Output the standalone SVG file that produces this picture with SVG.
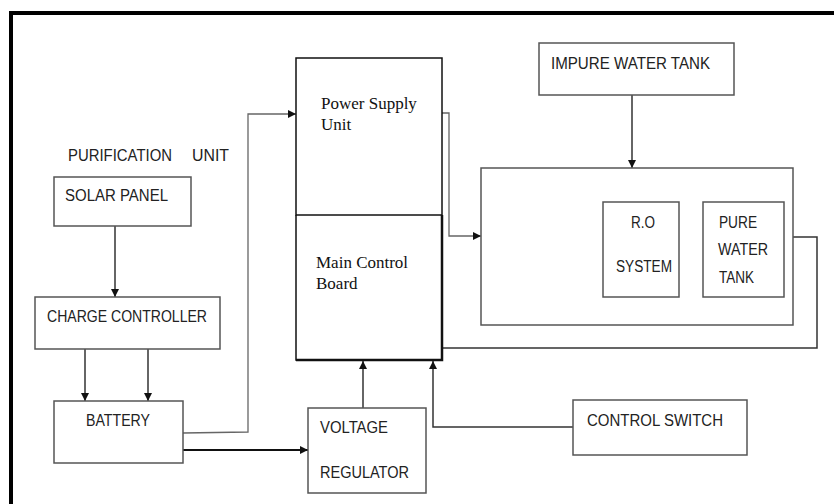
<svg xmlns="http://www.w3.org/2000/svg" width="834" height="504" viewBox="0 0 834 504">
<style>
.box{fill:#fff;stroke:#555;stroke-width:1.5}
.main{fill:none;stroke:#111;stroke-width:1.5}
.t{font-family:"Liberation Sans",Arial,sans-serif;font-size:16px;fill:#222}
.s{font-family:"Liberation Serif","Times New Roman",serif;font-size:17px;fill:#111}
.c{fill:none;stroke:#333;stroke-width:1.5}
.cg{fill:none;stroke:#666;stroke-width:1.3}
.ck{fill:none;stroke:#111;stroke-width:2.2}
</style>
<defs>
<marker id="ah" viewBox="0 0 10 10" refX="10" refY="5" markerWidth="8" markerHeight="8" markerUnits="userSpaceOnUse" orient="auto">
<path d="M0,0 L10,5 L0,10 z" fill="#111"/>
</marker>
</defs>
<rect width="834" height="504" fill="#fff"/>
<g id="frame">
<line x1="9" y1="13" x2="834" y2="13" stroke="#000" stroke-width="4"/>
<line x1="11" y1="11" x2="11" y2="504" stroke="#000" stroke-width="4"/>
</g>
<g id="connectors">
<line class="c" x1="115" y1="226" x2="115" y2="297" marker-end="url(#ah)"/>
<line class="c" x1="85" y1="349" x2="85" y2="401" marker-end="url(#ah)"/>
<line class="c" x1="148" y1="349" x2="148" y2="401" marker-end="url(#ah)"/>
<polyline class="cg" points="183,433 248,432 248,114 296,114" marker-end="url(#ah)"/>
<line class="ck" x1="183" y1="450" x2="308" y2="450" marker-end="url(#ah)"/>
<line class="c" x1="363" y1="408" x2="363" y2="361" marker-end="url(#ah)"/>
<polyline class="c" points="573,427 433,427 433,361" marker-end="url(#ah)"/>
<polyline class="cg" points="442,113 449,113 449,236 481,236" marker-end="url(#ah)"/>
<line class="c" x1="632" y1="95" x2="632" y2="168" marker-end="url(#ah)"/>
<polyline class="c" points="784,237 817,237 817,348 442,348"/>
</g>
<g id="label-purification">
<text class="t" x="68" y="161" textLength="104" lengthAdjust="spacingAndGlyphs">PURIFICATION</text>
<text class="t" x="192" y="161" textLength="37" lengthAdjust="spacingAndGlyphs">UNIT</text>
</g>
<g id="solar-panel">
<rect class="box" x="54" y="177" width="137" height="49"/>
<text class="t" x="65" y="201" textLength="103" lengthAdjust="spacingAndGlyphs">SOLAR  PANEL</text>
</g>
<g id="charge-controller">
<rect class="box" x="35" y="297" width="185" height="52"/>
<text class="t" x="47" y="322" textLength="160" lengthAdjust="spacingAndGlyphs">CHARGE CONTROLLER</text>
</g>
<g id="battery">
<rect class="box" x="54" y="401" width="129" height="62"/>
<text class="t" x="86" y="426" textLength="64" lengthAdjust="spacingAndGlyphs">BATTERY</text>
</g>
<g id="voltage-regulator">
<rect class="box" x="308" y="408" width="118" height="85"/>
<text class="t" x="320" y="433" textLength="68" lengthAdjust="spacingAndGlyphs">VOLTAGE</text>
<text class="t" x="320" y="478" textLength="89" lengthAdjust="spacingAndGlyphs">REGULATOR</text>
</g>
<g id="power-supply-unit">
<rect class="main" x="296" y="58" width="146" height="157"/>
<text class="s" x="321" y="109">Power Supply</text>
<text class="s" x="321" y="130">Unit</text>
</g>
<g id="main-control-board">
<path d="M296,215 L296,360 L442,360 L442,215" fill="none" stroke="#111" stroke-width="1.5"/>
<path d="M296,360 L442,360 L442,215" fill="none" stroke="#111" stroke-width="2.5"/>
<text class="s" x="316" y="268">Main Control</text>
<text class="s" x="316" y="289">Board</text>
</g>
<g id="impure-water-tank">
<rect class="box" x="539" y="43" width="195" height="52"/>
<text class="t" x="551" y="69" textLength="159" lengthAdjust="spacingAndGlyphs">IMPURE WATER TANK</text>
</g>
<g id="purification-unit">
<rect class="box" x="481" y="168" width="312" height="157"/>
</g>
<g id="ro-system">
<rect class="box" x="603" y="202" width="76" height="95"/>
<text class="t" x="631" y="228" textLength="24" lengthAdjust="spacingAndGlyphs">R.O</text>
<text class="t" x="616" y="272" textLength="56" lengthAdjust="spacingAndGlyphs">SYSTEM</text>
</g>
<g id="pure-water-tank">
<rect class="box" x="703" y="202" width="81" height="95"/>
<text class="t" x="719" y="228" textLength="38" lengthAdjust="spacingAndGlyphs">PURE</text>
<text class="t" x="718" y="255" textLength="50" lengthAdjust="spacingAndGlyphs">WATER</text>
<text class="t" x="719" y="283" textLength="35" lengthAdjust="spacingAndGlyphs">TANK</text>
</g>
<g id="control-switch">
<rect class="box" x="573" y="400" width="174" height="55"/>
<text class="t" x="587" y="426" textLength="136" lengthAdjust="spacingAndGlyphs">CONTROL  SWITCH</text>
</g>
</svg>
